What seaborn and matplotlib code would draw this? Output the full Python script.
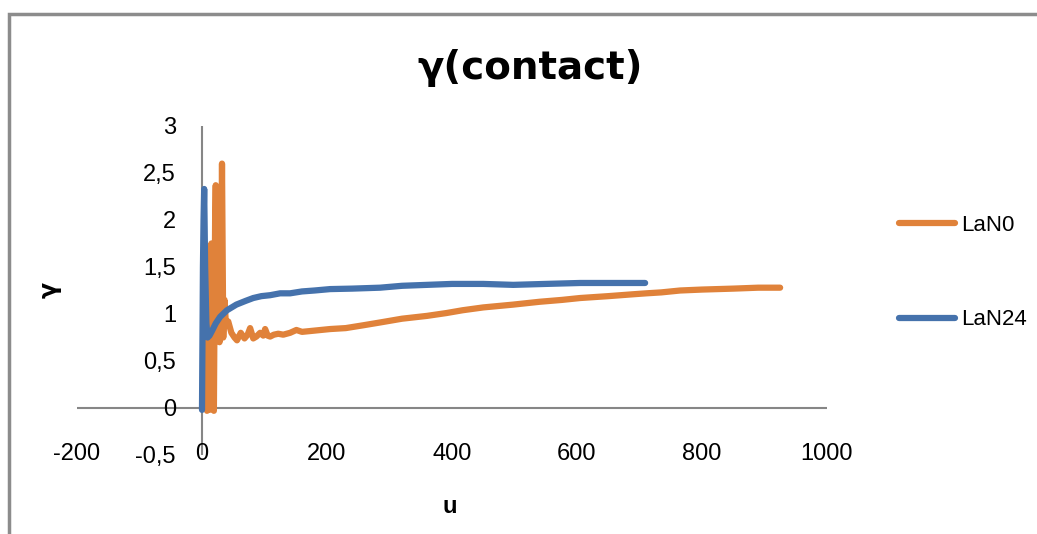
import pandas as pd
import numpy as np
import seaborn as sns
from matplotlib import pyplot as plt
from matplotlib.patches import Rectangle
from matplotlib.transforms import offset_copy

# LaN0 (orange) points
lan0_u = [8, 10, 12, 14, 15, 17, 19, 21, 22, 24, 26, 28, 30, 32, 34, 36, 38,
          42, 47, 52, 56, 62, 68, 73, 77, 82, 87, 93, 98, 101, 105, 109, 115,
          122, 130, 141, 151, 160, 175, 190, 205, 230, 258, 285, 320, 360,
          391, 417, 450, 498, 540, 576, 605, 650, 690, 711, 735, 765, 800,
          850, 890, 925]
lan0_g = [-0.03, 0.72, -0.02, 0.9, 1.75, 0.72, -0.03, 2.0, 2.37, 0.72, 2.35,
          0.7, 0.8, 2.6, 0.75, 1.15, 0.92, 0.92, 0.8, 0.75, 0.72, 0.8, 0.74,
          0.78, 0.85, 0.74, 0.76, 0.8, 0.77, 0.84, 0.77, 0.76, 0.78, 0.79,
          0.78, 0.8, 0.83, 0.81, 0.82, 0.83, 0.84, 0.85, 0.88, 0.91, 0.95,
          0.98, 1.01, 1.04, 1.07, 1.1, 1.13, 1.15, 1.17, 1.19, 1.21, 1.22,
          1.23, 1.25, 1.26, 1.27, 1.28, 1.28]

# LaN24 (blue)
lan24_u = [0, 0.5, 1, 1.5, 2.5, 3.5, 5, 7, 9, 12, 16, 22, 29, 40, 55, 70,
           82, 95, 109, 125, 141, 160, 180, 205, 240, 285, 320, 360, 400,
           450, 498, 550, 605, 650, 709]
lan24_g = [-0.02, 0.5, 0.97, 1.5, 2.0, 2.33, 1.5, 0.9, 0.75, 0.77, 0.82, 0.9,
           0.97, 1.04, 1.1, 1.14, 1.17, 1.19, 1.2, 1.22, 1.22, 1.24, 1.25,
           1.265, 1.27, 1.28, 1.3, 1.31, 1.32, 1.32, 1.31, 1.32, 1.33, 1.33,
           1.33]

series = ["LaN0", "LaN24"]
colors = ["#E0823A", "#4572AC"]

df = pd.concat([
    pd.DataFrame({"u": lan0_u, "gamma": lan0_g, "series": "LaN0"}),
    pd.DataFrame({"u": lan24_u, "gamma": lan24_g, "series": "LaN24"}),
])

sns.set_style("white")
plt.rcParams['font.family'] = ['Liberation Sans', 'DejaVu Sans']
plt.rcParams['text.color'] = 'black'
plt.rcParams['xtick.color'] = 'black'
plt.rcParams['ytick.color'] = 'black'
plt.rcParams['axes.labelcolor'] = 'black'

fig = plt.figure(figsize=(10.37, 5.34), dpi=100)
W, H = 1037, 534
ax = fig.add_axes([77 / W, 1 - 455 / H, (827 - 77) / W, (455 - 126) / H])

sns.lineplot(data=df, x="u", y="gamma", hue="series", palette=colors,
             hue_order=series, sort=False, estimator=None, lw=4.5, ax=ax,
             legend=True, solid_capstyle='round', solid_joinstyle='round')

ax.set_xlim(-200, 1000)
ax.set_ylim(-0.5, 3)
for s in ax.spines.values():
    s.set_visible(False)
ax.axhline(0, color="#868686", lw=1.5, zorder=0)
ax.axvline(0, color="#868686", lw=1.5, zorder=0)

ax.set_xticks([-200, 0, 200, 400, 600, 800, 1000])
ax.set_xticklabels(["-200", "0", "200", "400", "600", "800", "1000"])
ax.set_yticks([-0.5, 0, 0.5, 1, 1.5, 2, 2.5, 3])
ax.set_yticklabels(["-0,5", "0", "0,5", "1", "1,5", "2", "2,5", "3"])
ax.tick_params(axis='x', length=0, pad=-9, labelsize=17)
ax.tick_params(axis='y', length=0, pad=0, labelsize=17)
# y labels sit next to the axis at u=0
for t in ax.get_yticklabels():
    t.set_horizontalalignment('right')
    t.set_transform(offset_copy(ax.get_yaxis_transform(), fig=fig,
                                x=(176 - 77) / 100, y=0, units='inches'))

ax.set_xlabel("u", fontsize=17, fontweight='bold', labelpad=0)
ax.xaxis.set_label_coords((450 - 77) / 750, -(495 - 455) / 329)
ax.set_ylabel("γ", fontsize=17, fontweight='bold', family=['DejaVu Sans'])
ax.yaxis.set_label_coords((62 - 77) / 750, (455 - 290) / 329)

fig.text(530 / W, 1 - 68 / H, "γ(contact)", ha='center', va='center',
         fontsize=28, fontweight='bold', family=['DejaVu Sans'])

leg = ax.legend(loc='upper left', bbox_to_anchor=(879 / W, 1 - 195 / H),
                bbox_transform=fig.transFigure, frameon=False, fontsize=16,
                handlelength=2.5, labelspacing=3.3, handletextpad=0.3)
for line in leg.get_lines():
    line.set_linewidth(4.5)
    line.set_solid_capstyle('round')

fig.add_artist(Rectangle((9 / W, -0.1), 1.2, 1 - 14 / H + 0.1, transform=fig.transFigure,
                         fill=False, edgecolor="#8c8c8c", lw=2.5))

fig.savefig("out.png", dpi=100)
